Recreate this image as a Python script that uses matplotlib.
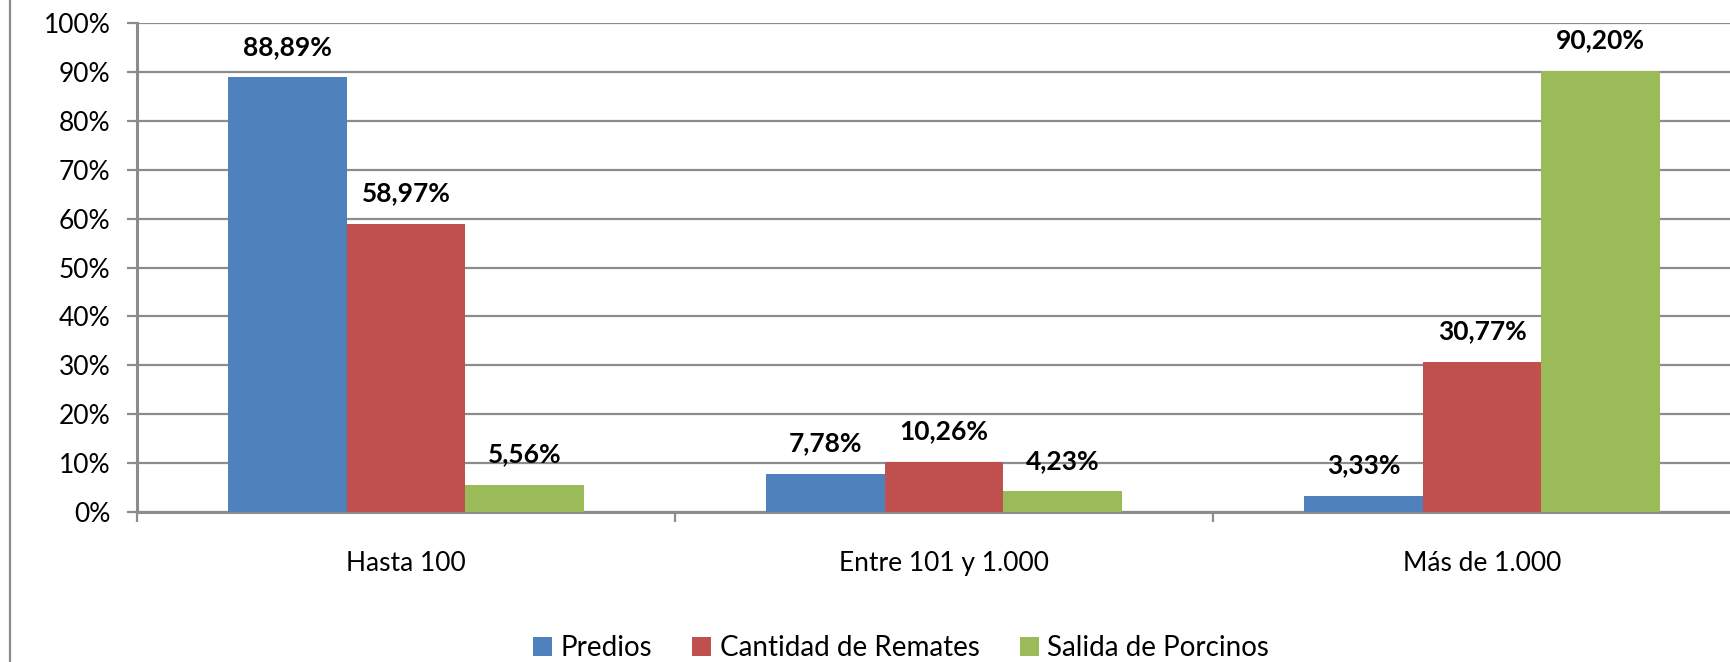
import matplotlib
matplotlib.use("Agg")
import matplotlib.pyplot as plt
from matplotlib.lines import Line2D
from matplotlib.patches import Patch
import numpy as np

# categories and series
categorias = ["Hasta 100", "Entre 101 y 1.000", "Más de 1.000"]
series = ["Predios", "Cantidad de Remates", "Salida de Porcinos"]
predios = [88.89, 7.78, 3.33]
remates = [58.97, 10.26, 30.77]
porcinos = [5.56, 4.23, 90.20]
colores = ["#4F81BD", "#C0504D", "#9BBB59"]

plt.rcParams["font.family"] = ["Lato", "DejaVu Sans"]
GRIS = "#8C8C8C"

fig = plt.figure(figsize=(17.31, 6.62), dpi=100)
ax = fig.add_axes([137 / 1731, 150 / 662, 1614 / 1731, 489 / 662])

x = np.arange(len(categorias))
ancho = 0.22
valores = [predios, remates, porcinos]
for i, (vals, col) in enumerate(zip(valores, colores)):
    barras = ax.bar(x + (i - 1) * ancho, vals, ancho, color=col, zorder=3)
    for b, v in zip(barras, vals):
        ax.annotate(f"{v:.2f}%".replace(".", ","),
                    (b.get_x() + b.get_width() / 2, b.get_height()),
                    xytext=(0, 22), textcoords="offset points",
                    ha="center", va="center", fontsize=19, fontweight="bold")

ax.set_xlim(-0.5, 2.5)
ax.set_ylim(0, 100)
ax.set_yticks(range(0, 101, 10))
ax.set_yticklabels([f"{v}%" for v in range(0, 101, 10)], fontsize=19)
ax.yaxis.grid(True, color=GRIS, linewidth=1.6, zorder=0)

# category boundaries as major ticks, names as minor ticks
ax.set_xticks([-0.5, 0.5, 1.5, 2.5])
ax.set_xticklabels([])
ax.set_xticks(x, minor=True)
ax.set_xticklabels(categorias, minor=True, fontsize=19)
ax.tick_params(axis="x", which="major", length=7, width=1.6, color=GRIS)
ax.tick_params(axis="x", which="minor", length=0, pad=28)
ax.tick_params(axis="y", length=7, width=1.6, color=GRIS, pad=12)

for lado in ["top", "right"]:
    ax.spines[lado].set_visible(False)
for lado in ["left", "bottom"]:
    ax.spines[lado].set_color(GRIS)
    ax.spines[lado].set_linewidth(2.2)

handles = [Patch(facecolor=c, edgecolor="none") for c in colores]
fig.legend(handles, series, loc="center", bbox_to_anchor=(901 / 1731, 14 / 662),
           ncol=3, frameon=False, fontsize=20, handlelength=0.68,
           handleheight=0.68, handletextpad=0.3, columnspacing=1.45,
           borderpad=0, borderaxespad=0)

# chart border on the left
fig.add_artist(Line2D([10 / 1731, 10 / 1731], [0, 1], color=GRIS, linewidth=1.6))

fig.savefig("out.png", dpi=100)
